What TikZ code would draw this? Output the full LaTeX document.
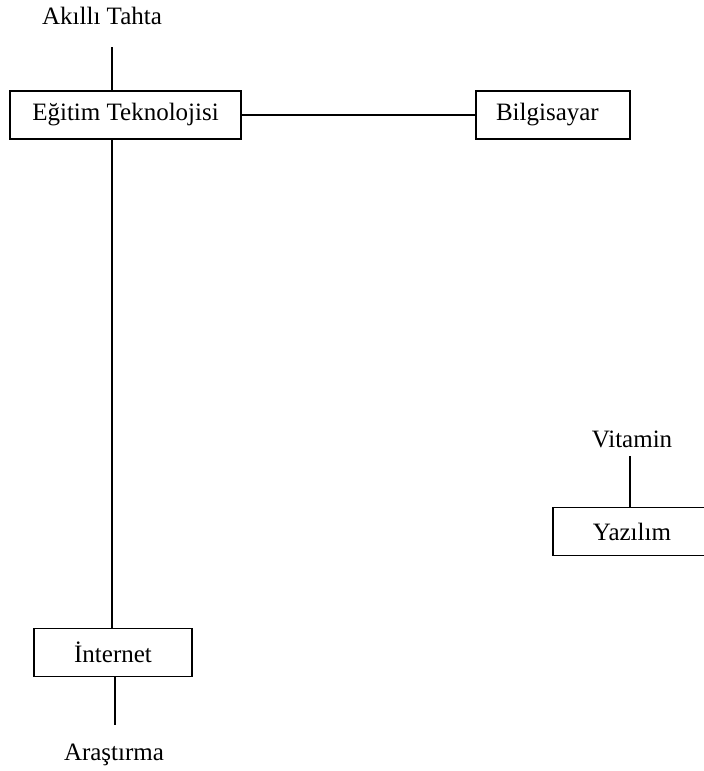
\documentclass[tikz,border=0pt]{standalone}
\usepackage{fontspec}
\setmainfont{Liberation Serif}
\begin{document}
\begin{tikzpicture}[x=1pt,y=-1pt,
  conn/.style={line width=1.5pt},
  boxnode/.style={draw, line width=1.5pt, rectangle, inner sep=0pt,
    minimum height=48pt, font=\fontsize{25}{29}\selectfont},
  label/.style={inner sep=0pt, anchor=base, font=\fontsize{25}{29}\selectfont}]
\useasboundingbox (0,0) rectangle (704,771);
\clip (0,0) rectangle (704,771);

% boxes
\node[boxnode, minimum width=231pt] (egitim) at (125.5,115) {Eğitim Teknolojisi};
\node[boxnode, text width=114pt, align=left, inner xsep=20pt,
      minimum width=154pt] (bilgisayar) at (553,115) {Bilgisayar};
\node[boxnode, minimum width=158pt] (internet) at (113,652.5) {İnternet};
\node[boxnode, minimum width=158pt] (yazilim) at (632,531.5) {Yazılım};

% free labels
\node[label] (akilli) at (102,24) {Akıllı Tahta};
\node[label] (arastirma) at (114,760) {Araştırma};
\node[label] (vitamin) at (632,447) {Vitamin};

% loose ends of the short stubs
\coordinate (akilliend) at (112,47);
\coordinate (arastirmaend) at (115,725);
\coordinate (vitaminend) at (630,456);
\coordinate (trunk) at (112,0);

% connectors
\draw[conn] (egitim.north -| akilliend) -- (akilliend);
\draw[conn] (egitim.east) -- (bilgisayar.west);
\draw[conn] (egitim.south -| trunk) -- (internet.north -| trunk);
\draw[conn] (internet.south -| arastirmaend) -- (arastirmaend);
\draw[conn] (yazilim.north -| vitaminend) -- (vitaminend);
\end{tikzpicture}
\end{document}
